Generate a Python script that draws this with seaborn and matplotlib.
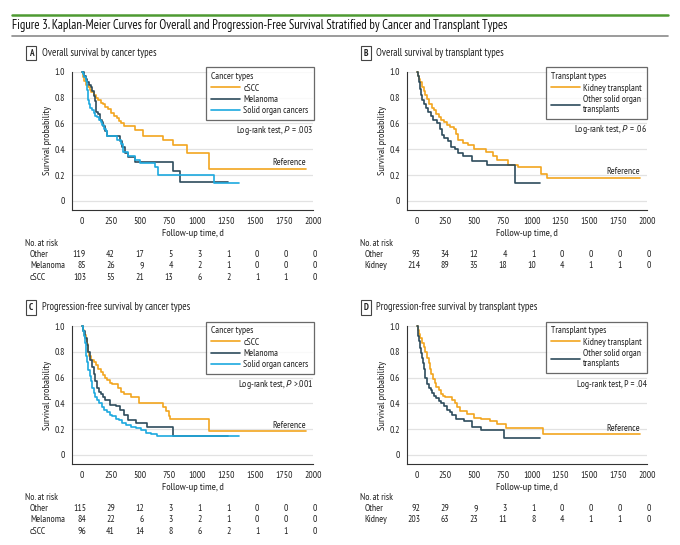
import numpy as np
import pandas as pd
import matplotlib
matplotlib.use('Agg')
import matplotlib.pyplot as plt
import matplotlib.transforms as mtransforms
from matplotlib import font_manager
from matplotlib.lines import Line2D
import seaborn as sns

# ==============================================
# Data
# ==============================================
# A: overall survival by cancer types
os_cscc_t = [0, 10, 20, 35, 50, 65, 80, 100, 120, 140, 160, 180, 200, 225, 250, 275, 300, 320, 340, 360, 460, 530, 705, 790, 905, 1100, 1940]
os_cscc_s = [1.0, 0.96, 0.93, 0.90, 0.88, 0.86, 0.84, 0.82, 0.80, 0.78, 0.76, 0.75, 0.73, 0.71, 0.68, 0.66, 0.64, 0.62, 0.60, 0.58, 0.55, 0.505, 0.47, 0.43, 0.37, 0.25, 0.25]
os_mel_t = [0, 15, 30, 45, 60, 75, 90, 105, 115, 120, 140, 155, 170, 185, 200, 215, 330, 345, 370, 400, 460, 790, 850, 1260]
os_mel_s = [1.0, 0.97, 0.94, 0.92, 0.90, 0.88, 0.85, 0.81, 0.77, 0.69, 0.67, 0.63, 0.61, 0.58, 0.54, 0.50, 0.46, 0.42, 0.37, 0.34, 0.30, 0.23, 0.15, 0.15]
os_solid_t = [0, 10, 20, 30, 40, 45, 50, 55, 62, 70, 85, 100, 115, 130, 145, 160, 175, 190, 205, 220, 300, 340, 355, 400, 460, 500, 630, 660, 1140, 1355]
os_solid_s = [1.0, 0.98, 0.96, 0.93, 0.90, 0.86, 0.82, 0.78, 0.75, 0.72, 0.70, 0.68, 0.66, 0.65, 0.63, 0.61, 0.59, 0.56, 0.54, 0.50, 0.47, 0.44, 0.38, 0.35, 0.32, 0.29, 0.26, 0.20, 0.14, 0.14]

# B: overall survival by transplant types
os_kid_t = [0, 10, 20, 30, 45, 60, 75, 90, 110, 130, 150, 170, 190, 210, 235, 260, 290, 320, 345, 360, 400, 450, 500, 600, 660, 700, 790, 880, 1080, 1130, 1940]
os_kid_s = [1.0, 0.97, 0.94, 0.92, 0.88, 0.85, 0.82, 0.79, 0.75, 0.72, 0.70, 0.67, 0.65, 0.63, 0.61, 0.59, 0.57, 0.56, 0.52, 0.47, 0.45, 0.43, 0.40, 0.38, 0.35, 0.32, 0.28, 0.26, 0.21, 0.18, 0.18]
os_oth_t = [0, 10, 20, 30, 40, 50, 65, 80, 100, 120, 145, 175, 200, 220, 240, 270, 300, 330, 360, 400, 480, 610, 855, 1075]
os_oth_s = [1.0, 0.97, 0.92, 0.87, 0.82, 0.78, 0.75, 0.72, 0.69, 0.66, 0.63, 0.60, 0.56, 0.51, 0.49, 0.46, 0.42, 0.40, 0.37, 0.35, 0.31, 0.28, 0.14, 0.14]

# C: progression-free survival by cancer types
pfs_cscc_t = [0, 10, 20, 30, 40, 50, 60, 80, 100, 120, 140, 160, 180, 200, 220, 240, 260, 310, 340, 360, 420, 490, 705, 730, 750, 765, 1100, 1940]
pfs_cscc_s = [1.0, 0.97, 0.93, 0.90, 0.86, 0.80, 0.77, 0.74, 0.72, 0.70, 0.67, 0.64, 0.62, 0.60, 0.58, 0.56, 0.55, 0.52, 0.49, 0.47, 0.45, 0.40, 0.37, 0.34, 0.30, 0.28, 0.185, 0.185]
pfs_mel_t = [0, 12, 25, 40, 55, 70, 85, 100, 115, 130, 145, 160, 180, 200, 240, 290, 330, 360, 400, 470, 560, 790, 1260]
pfs_mel_s = [1.0, 0.96, 0.91, 0.85, 0.80, 0.74, 0.68, 0.63, 0.57, 0.52, 0.49, 0.47, 0.45, 0.43, 0.39, 0.38, 0.35, 0.31, 0.27, 0.25, 0.22, 0.15, 0.15]
pfs_solid_t = [0, 8, 15, 22, 30, 38, 45, 55, 65, 75, 85, 100, 115, 130, 150, 170, 190, 215, 240, 260, 290, 320, 350, 380, 420, 470, 510, 550, 600, 650, 1355]
pfs_solid_s = [1.0, 0.96, 0.92, 0.87, 0.83, 0.77, 0.72, 0.66, 0.61, 0.57, 0.52, 0.48, 0.45, 0.43, 0.40, 0.37, 0.35, 0.33, 0.31, 0.30, 0.28, 0.27, 0.25, 0.23, 0.22, 0.21, 0.19, 0.17, 0.16, 0.145, 0.145]

# D: progression-free survival by transplant types
pfs_kid_t = [0, 10, 20, 30, 45, 60, 75, 90, 105, 115, 125, 140, 155, 170, 190, 210, 230, 250, 310, 330, 350, 380, 440, 500, 560, 640, 700, 780, 1095, 1940]
pfs_kid_s = [1.0, 0.97, 0.94, 0.91, 0.87, 0.84, 0.80, 0.75, 0.71, 0.67, 0.63, 0.59, 0.56, 0.53, 0.50, 0.47, 0.46, 0.45, 0.43, 0.40, 0.37, 0.34, 0.32, 0.29, 0.28, 0.26, 0.24, 0.21, 0.16, 0.16]
pfs_oth_t = [0, 8, 15, 22, 30, 38, 46, 54, 61, 68, 75, 90, 105, 120, 135, 150, 170, 190, 215, 235, 265, 290, 310, 340, 410, 480, 555, 755, 1075]
pfs_oth_s = [1.0, 0.96, 0.92, 0.88, 0.83, 0.79, 0.75, 0.71, 0.67, 0.63, 0.60, 0.55, 0.52, 0.50, 0.48, 0.46, 0.44, 0.42, 0.40, 0.38, 0.35, 0.33, 0.31, 0.28, 0.26, 0.22, 0.19, 0.13, 0.13]

# numbers at risk
risk_times = [0, 250, 500, 750, 1000, 1250, 1500, 1750, 2000]
risk_a = {'Other': [119, 42, 17, 5, 3, 1, 0, 0, 0],
          'Melanoma': [85, 26, 9, 4, 2, 1, 0, 0, 0],
          'cSCC': [103, 55, 21, 13, 6, 2, 1, 1, 0]}
risk_b = {'Other': [93, 34, 12, 4, 1, 0, 0, 0, 0],
          'Kidney': [214, 89, 35, 18, 10, 4, 1, 1, 0]}
risk_c = {'Other': [115, 29, 12, 3, 1, 1, 0, 0, 0],
          'Melanoma': [84, 22, 6, 3, 2, 1, 0, 0, 0],
          'cSCC': [96, 41, 14, 8, 6, 2, 1, 1, 0]}
risk_d = {'Other': [92, 29, 9, 3, 1, 0, 0, 0, 0],
          'Kidney': [203, 63, 23, 11, 8, 4, 1, 1, 0]}

ORANGE = '#F2A51F'
DARK = '#2E4C5C'
BLUE = '#1DA9DF'

# ==============================================
# Style
# ==============================================
sns.set_style('white')
avail = {f.name for f in font_manager.fontManager.ttflist}
FONT = next((f for f in ['PT Sans Narrow', 'Roboto Condensed', 'Liberation Sans'] if f in avail), 'DejaVu Sans')
IT_FONT = 'PT Sans' if 'PT Sans' in avail else FONT
plt.rcParams['font.family'] = [FONT, 'DejaVu Sans']
plt.rcParams['mathtext.fontset'] = 'custom'
plt.rcParams['mathtext.rm'] = FONT
plt.rcParams['mathtext.it'] = IT_FONT + ':italic'
FS = 6.9
TXT = '#222222'

fig = plt.figure(figsize=(6.8, 5.45), dpi=100)
W, H = 680.0, 545.0


def fx(px):
    return px / W


def fy(py):
    return 1 - py / H


# header lines + title
fig.add_artist(Line2D([fx(12), fx(668)], [fy(14.5), fy(14.5)], color='#4E9A32', lw=1.8))
fig.add_artist(Line2D([fx(12), fx(668)], [fy(36), fy(36)], color='#8A8A8A', lw=1.2))
fig.text(fx(12), fy(26), 'Figure 3. Kaplan-Meier Curves for Overall and Progression-Free Survival '
         'Stratified by Cancer and Transplant Types', fontsize=9.1, va='center', ha='left', color='#111111')


def km_frame(groups):
    rows = []
    for name, t, s in groups:
        rows.append(pd.DataFrame({'t': t, 's': s, 'group': name}))
    return pd.concat(rows, ignore_index=True)


def panel(box, letter, title, groups, palette, leg_title, leg_labels, leg_box,
          pval_text, pval_y, ref_xy, risk, risk_y):
    left, right, top, bottom = box
    ax = fig.add_axes([fx(left), fy(bottom), fx(right) - fx(left), fy(top) - fy(bottom)])
    df = km_frame(groups)
    sns.lineplot(data=df, x='t', y='s', hue='group', palette=palette, drawstyle='steps-post',
                 lw=1.2, legend=False, ax=ax, estimator=None, sort=False)
    for ln in ax.lines:
        ln.set_clip_on(False)
    ax.set_xlim(-87, 2000)
    ax.set_ylim(-0.07, 1.0)
    ax.set_xticks(risk_times)
    ax.set_xticklabels([str(v) for v in risk_times], fontsize=FS, color=TXT)
    ax.set_yticks([0, 0.2, 0.4, 0.6, 0.8, 1.0])
    ax.set_yticklabels(['0', '0.2', '0.4', '0.6', '0.8', '1.0'], fontsize=FS, color=TXT)
    for v in [0, 0.2, 0.4, 0.6, 0.8, 1.0]:
        ax.axhline(v, color='#E2E2E2', lw=0.9, zorder=0)
    sns.despine(ax=ax)
    for sp in ['left', 'bottom']:
        ax.spines[sp].set_color('#333333')
        ax.spines[sp].set_linewidth(0.8)
    ax.tick_params(axis='both', length=3, width=0.8, color='#333333', pad=2)
    ax.set_xlabel('Follow-up time, d', fontsize=FS + 0.5, color=TXT, labelpad=2)
    ax.set_ylabel('Survival probability', fontsize=FS + 0.5, color=TXT, labelpad=1.5)

    # panel label
    fig.text(fx(left - 41), fy(top - 18.5), letter, fontsize=6.6, fontweight='bold', va='center', ha='center',
             color=TXT, bbox=dict(boxstyle='square,pad=0.3', fc='white', ec='#444444', lw=0.8))
    fig.text(fx(left - 30.5), fy(top - 18.5), title, fontsize=FS + 0.7, va='center', ha='left', color=TXT)

    # legend
    handles = [Line2D([], [], color=palette[g[0]], lw=1.2) for g in groups]
    order = [g[0] for g in groups]
    leg = ax.legend(handles, [leg_labels[o] for o in order], title=leg_title, loc='upper right',
                    bbox_to_anchor=(fx(leg_box[0]), fy(leg_box[1])), bbox_transform=fig.transFigure,
                    fontsize=FS, title_fontsize=FS, frameon=True, fancybox=False, edgecolor='#444444',
                    handlelength=3.0, handletextpad=0.4, borderpad=0.5, labelspacing=0.25,
                    alignment='left', borderaxespad=0)
    leg.get_frame().set_linewidth(0.9)
    for t in leg.get_texts():
        t.set_color(TXT)
    leg.get_title().set_color(TXT)

    ax.text(2000, pval_y, pval_text, fontsize=FS, ha='right', va='center', color=TXT)
    ax.text(ref_xy[0], ref_xy[1], 'Reference', fontsize=FS, ha='right', va='bottom', color=TXT)

    # numbers at risk
    tr = mtransforms.blended_transform_factory(ax.transData, fig.transFigure)
    fig.text(fx(left - 47), fy(risk_y[0]), 'No. at risk', fontsize=FS, va='center', ha='left', color=TXT)
    for (name, vals), yy in zip(risk.items(), risk_y[1:]):
        fig.text(fx(left - 42), fy(yy), name, fontsize=FS, va='center', ha='left', color=TXT)
        for tt, v in zip(risk_times, vals):
            ax.text(tt + 35, fy(yy), str(v), transform=tr, fontsize=FS, va='center', ha='right',
                    color=TXT, clip_on=False)
    return ax


pal_c = {'cSCC': ORANGE, 'Melanoma': DARK, 'Solid organ cancers': BLUE}
lab_c = {'cSCC': 'cSCC', 'Melanoma': 'Melanoma', 'Solid organ cancers': 'Solid organ cancers'}
pal_t = {'Kidney transplant': ORANGE, 'Other solid organ transplants': DARK}
lab_t = {'Kidney transplant': 'Kidney transplant', 'Other solid organ transplants': 'Other solid organ\ntransplants'}

panel((72, 313, 71.7, 210), 'A', 'Overall survival by cancer types',
      [('cSCC', os_cscc_t, os_cscc_s), ('Melanoma', os_mel_t, os_mel_s),
       ('Solid organ cancers', os_solid_t, os_solid_s)],
      pal_c, 'Cancer types', lab_c, (313.5, 67.5),
      'Log-rank test, $\\mathit{P}$ = .003', 0.545, (1940, 0.26), risk_a, [243.5, 254.5, 266, 277.5])

panel((406.7, 646.7, 71.7, 210), 'B', 'Overall survival by transplant types',
      [('Kidney transplant', os_kid_t, os_kid_s), ('Other solid organ transplants', os_oth_t, os_oth_s)],
      pal_t, 'Transplant types', lab_t, (647, 67.5),
      'Log-rank test, $\\mathit{P}$ = .06', 0.555, (1940, 0.19), risk_b, [243.5, 254.5, 266])

panel((72, 313, 326, 464), 'C', 'Progression-free survival by cancer types',
      [('cSCC', pfs_cscc_t, pfs_cscc_s), ('Melanoma', pfs_mel_t, pfs_mel_s),
       ('Solid organ cancers', pfs_solid_t, pfs_solid_s)],
      pal_c, 'Cancer types', lab_c, (313.5, 321.5),
      'Log-rank test, $\\mathit{P}$ >.001', 0.545, (1940, 0.195), risk_c, [497, 508.5, 520, 531.5])

panel((406.7, 646.7, 326, 464), 'D', 'Progression-free survival by transplant types',
      [('Kidney transplant', pfs_kid_t, pfs_kid_s), ('Other solid organ transplants', pfs_oth_t, pfs_oth_s)],
      pal_t, 'Transplant types', lab_t, (647, 321.5),
      'Log-rank test, P = .04', 0.545, (1940, 0.17), risk_d, [497, 508.5, 520])

fig.savefig('out.png', dpi=100, facecolor='white')
